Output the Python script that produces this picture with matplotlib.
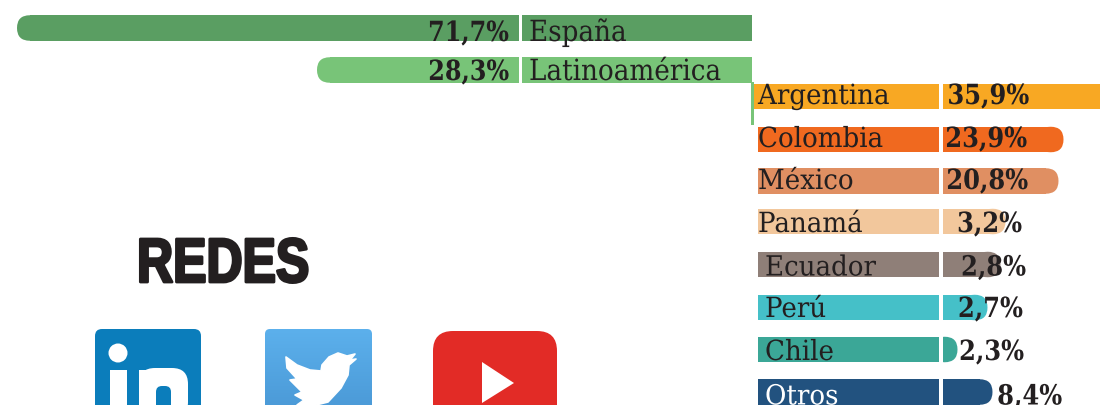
import numpy as np
import matplotlib
matplotlib.use("Agg")
import matplotlib.pyplot as plt
from matplotlib.colors import LinearSegmentedColormap
from matplotlib.patches import FancyBboxPatch, Rectangle, Circle, Polygon
from matplotlib.transforms import Affine2D
import matplotlib.patheffects as pe

# origen: Espana / Latinoamerica
top_names = ['España', 'Latinoamérica']
top_values = ['71,7%', '28,3%']
top_bar_len = [735, 435]  # largo de barra en px, no es proporcional al %

# detalle Latinoamerica
country_names = ['Argentina', 'Colombia', 'México', 'Panamá', 'Ecuador', 'Perú', 'Chile', 'Otros']
country_values = ['35,9%', '23,9%', '20,8%', '3,2%', '2,8%', '2,7%', '2,3%', '8,4%']
country_bar_len = [348, 306, 301, 248, 243, 230, 200, 235]

title = 'REDES'

top_colors = ['#5a9e62', '#78c478']
country_colors = ['#f8a823', '#f0691f', '#e08f62', '#f2c79c', '#8f7f78', '#45c0c8', '#3ba797', '#22527f']
ink = '#231f20'

top_y = [28, 70]
top_base = [41, 80]
country_y = [96.5, 139.5, 181, 221.5, 264.5, 307.5, 349.5, 392]
country_base = [104, 147, 189, 232, 275.5, 317, 360, 404.5]
name_x = [758, 758, 758, 758, 765, 765, 765, 765]
value_x = [1029, 1027, 1028, 1022, 1026, 1023, 1024, 1062]
bar_h = 25.5
serif = 'DejaVu Serif'

fig = plt.figure(figsize=(11, 4.05), dpi=100, facecolor='white')
ax = fig.add_axes([0, 0, 1, 1])
ax.set_xlim(0, 1100)
ax.set_ylim(405, 0)
ax.axis('off')


class SqueezeX(pe.AbstractPathEffect):
    # angosta el texto en x, las fuentes condensadas no estan instaladas
    def __init__(self, sx, pivot, lw=0.0):
        super().__init__()
        self.sx = sx
        self.pivot = pivot
        self.lw = lw

    def draw_path(self, renderer, gc, tpath, affine, rgbFace=None):
        aff = affine + Affine2D().translate(-self.pivot, 0).scale(self.sx, 1).translate(self.pivot, 0)
        gc0 = renderer.new_gc()
        gc0.copy_properties(gc)
        gc0.set_linewidth(self.lw)
        gc0.set_foreground(ink if self.lw else gc.get_rgb())
        renderer.draw_path(gc0, tpath, aff, rgbFace)
        gc0.restore()


def put_text(x, y, s, size, sx, ha='left', bold=False, color=ink):
    ax.text(x, y, s, ha=ha, va='baseline', family=serif, weight='bold' if bold else 'normal',
            fontsize=size, color=color, zorder=4, path_effects=[SqueezeX(sx, x)])


def round_bar(y, x0, length, color, direction):
    # tramo recto + punta redondeada
    r = bar_h / 2
    if direction < 0:
        ax.barh(y, length - r, left=x0 - length + r, height=bar_h, color=color, lw=0)
        cap_left = x0 - length
    else:
        ax.barh(y, length - r, left=x0, height=bar_h, color=color, lw=0)
        cap_left = x0 + length - 2 * r
    ax.add_patch(FancyBboxPatch((cap_left, y - r), 2 * r, bar_h, boxstyle='round,pad=0,rounding_size=%f' % r,
                                fc=color, ec='none'))


for i in range(len(top_names)):
    round_bar(top_y[i], 752, top_bar_len[i], top_colors[i], -1)
    put_text(509, top_base[i], top_values[i], 20, 0.86, ha='right', bold=True)
    put_text(529, top_base[i], top_names[i], 21, 0.90)
ax.add_patch(Rectangle((519, 12), 3, 74, fc='white', ec='none', zorder=2))

# linea verde que une con el detalle
ax.add_patch(Rectangle((751, 82), 3, 43, fc=top_colors[1], ec='none', zorder=3))

for i in range(len(country_names)):
    x0 = 752 if i == 0 else 757.5
    if i == 0:
        ax.barh(country_y[i], country_bar_len[i], left=x0, height=bar_h, color=country_colors[i], lw=0)
    else:
        round_bar(country_y[i], x0, country_bar_len[i], country_colors[i], 1)
    name_color = 'white' if country_names[i] == 'Otros' else ink
    put_text(name_x[i], country_base[i], country_names[i], 20, 0.94, color=name_color)
    put_text(value_x[i], country_base[i], country_values[i], 20, 0.87, ha='right', bold=True)
ax.add_patch(Rectangle((938.5, 82), 4, 323, fc='white', ec='none', zorder=3))

# titulo
ax.text(137, 282, title, ha='left', va='baseline', family='Liberation Sans', weight='bold',
        fontsize=45, color=ink, path_effects=[SqueezeX(0.80, 137, lw=2)])

# linkedin
ax.add_patch(FancyBboxPatch((95, 329), 106, 90, boxstyle='round,pad=0,rounding_size=7', fc='#0b7dbb', ec='none'))
ax.add_patch(Circle((118, 353), 9.5, fc='white', ec='none'))
ax.add_patch(Rectangle((110, 370), 17, 40, fc='white', ec='none'))
ax.add_patch(Rectangle((139, 370), 17, 40, fc='white', ec='none'))
ax.add_patch(FancyBboxPatch((139, 368), 49, 50, boxstyle='round,pad=0,rounding_size=16', fc='white', ec='none'))
ax.add_patch(FancyBboxPatch((156, 386), 15, 40, boxstyle='round,pad=0,rounding_size=6', fc='#0b7dbb', ec='none'))

# twitter con degradado
tw_box = FancyBboxPatch((265, 329), 107, 90, boxstyle='round,pad=0,rounding_size=5', fc='none', ec='none')
ax.add_patch(tw_box)
grad = np.linspace(0, 1, 64).reshape(-1, 1)
im = ax.imshow(grad, extent=(265, 372, 405, 329), aspect='auto',
               cmap=LinearSegmentedColormap.from_list('tw', ['#5cb0ec', '#4c9bd8']))
im.set_clip_path(tw_box)
ax.set_xlim(0, 1100)
ax.set_ylim(405, 0)
bird = [(286, 357), (297, 365), (310, 370), (321, 371), (322, 365), (329, 357), (338, 353), (347, 356), (355, 354),
        (350, 360), (356, 359), (349, 365), (348, 375), (341, 388), (328, 402), (316, 405), (297, 405), (304, 400),
        (295, 395), (302, 392), (290, 380), (297, 379), (287, 368)]
ax.add_patch(Polygon(bird, closed=True, fc='white', ec='white', lw=1.2, joinstyle='round', zorder=3))

# youtube
ax.add_patch(FancyBboxPatch((433, 331), 124, 100, boxstyle='round,pad=0,rounding_size=20', fc='#e22b26', ec='none'))
ax.add_patch(Polygon([(482, 362), (482, 403), (514, 383)], closed=True, fc='white', ec='none', zorder=3))

plt.savefig('out.png', dpi=100, facecolor='white')
